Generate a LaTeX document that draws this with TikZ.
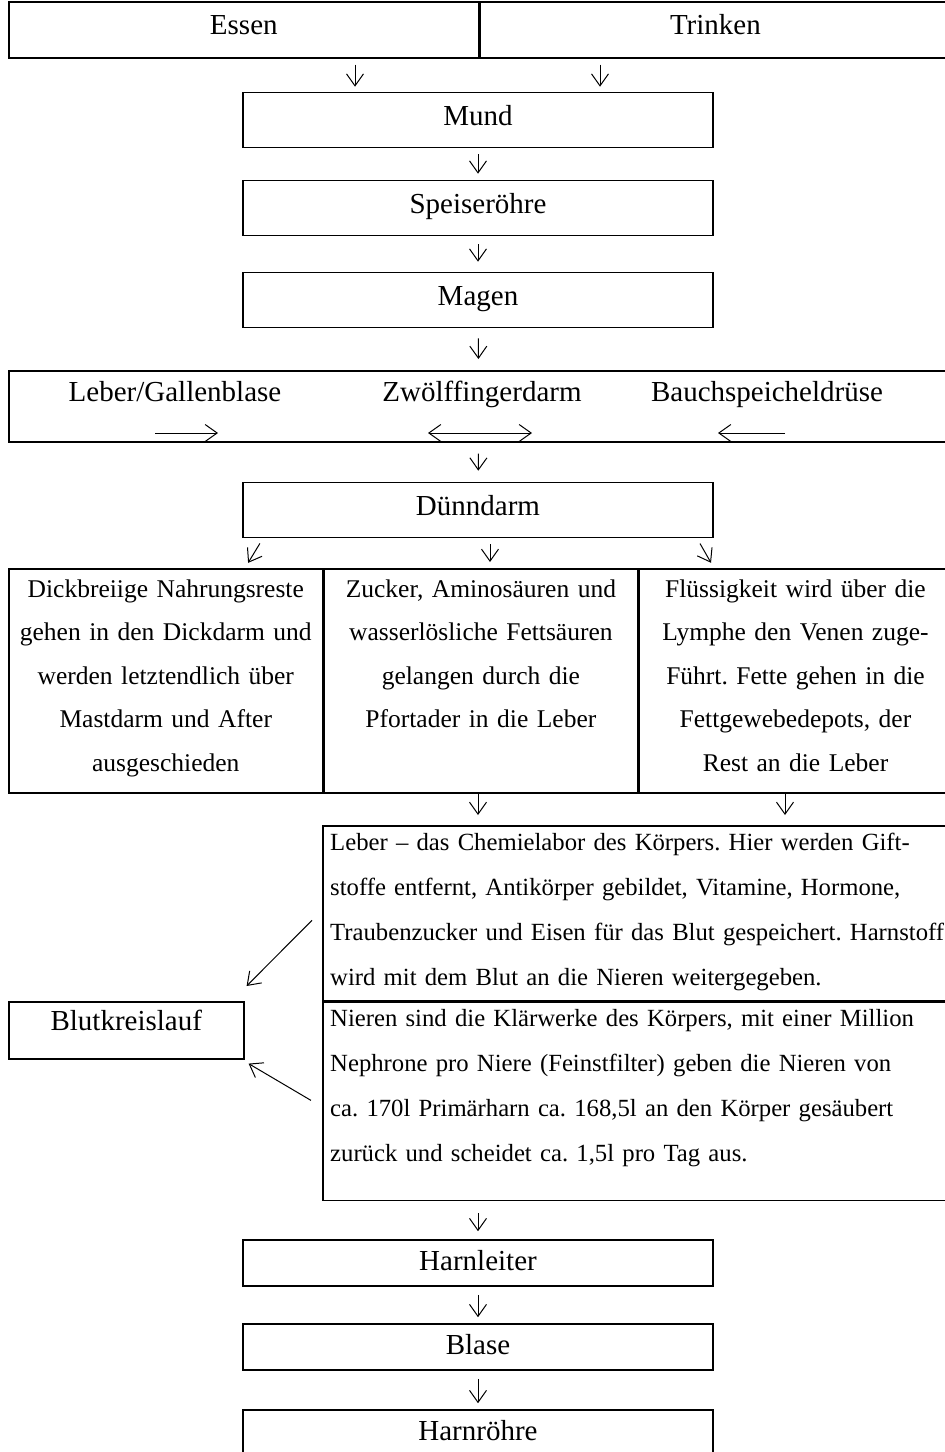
\documentclass[tikz,border=0pt]{standalone}
\usepackage{fontspec}
\setmainfont{Liberation Serif}
\usetikzlibrary{positioning,arrows.meta}
\frenchspacing

\newcommand{\headsize}{\fontsize{29}{34}\selectfont}
\newcommand{\bodysize}{\fontsize{25.5}{43.5}\selectfont}
\newcommand{\notesize}{\fontsize{24.7}{45}\selectfont}

\tikzset{
  box/.style={draw, line width=1.6pt, inner sep=0pt, minimum height=55,
    font=\headsize, text height=22, text depth=12},
  cell/.style={draw, line width=1.6pt, inner sep=0pt},
  coltext/.style={inner sep=0pt, font=\bodysize, align=center, text width=305, anchor=north},
  notetext/.style={inner sep=0pt, font=\notesize, align=left, text width=640, anchor=north west},
  label/.style={inner sep=0pt, font=\headsize, anchor=base},
  arr/.style={-{Straight Barb[length=12pt,width=17pt]}, line width=1pt},
  arrs/.style={{Straight Barb[length=12pt,width=17pt]}-{Straight Barb[length=12pt,width=17pt]}, line width=1pt},
}

\begin{document}
\begin{tikzpicture}[x=1pt,y=-1pt]

  \useasboundingbox (0,0) rectangle (945,1452);

  % Essen / Trinken
  \node[box, minimum width=470, minimum height=56, anchor=north west] (essen) at (8,1) {Essen};
  \node[box, minimum width=470, minimum height=56, right=0pt of essen] (trinken) {Trinken};

  \node[box, minimum width=470] (mund) at (478,120) {Mund};
  \node[box, minimum width=470] (speise) at (478,208) {Speiser\"ohre};
  \node[box, minimum width=470] (magen) at (478,300) {Magen};

  % Verdauungsorgane
  \node[cell, minimum width=940, minimum height=71, anchor=north west] (organs) at (8,370) {};
  \node[label] (galle) at (175,401) {Leber/Gallenblase};
  \node[label] (zwoelf) at (482,401) {Zw\"olffingerdarm};
  \node[label] (pankreas) at (767,401) {Bauchspeicheldr\"use};
  \coordinate (g1) at (155,433);
  \coordinate (g2) at (218,433);
  \coordinate (z1) at (428,433);
  \coordinate (z2) at (532,433);
  \coordinate (p1) at (785,433);
  \coordinate (p2) at (718,433);

  \node[box, minimum width=470] (duenn) at (478,510) {D\"unndarm};

  % drei Wege
  \node[cell, minimum width=314, minimum height=224, anchor=north west] (weg1) at (8,568) {};
  \node[cell, minimum width=313, minimum height=224, right=0pt of weg1] (weg2) {};
  \node[cell, minimum width=313, minimum height=224, right=0pt of weg2] (weg3) {};
  \node[coltext] (rest) at ([yshift=-11.5]weg1.north)
    {Dickbreiige Nahrungsreste\\gehen in den Dickdarm und\\werden letztendlich \"uber\\Mastdarm und After\\ausgeschieden};
  \node[coltext] (zucker) at ([yshift=-11.5]weg2.north)
    {Zucker, Aminos\"auren und\\wasserl\"osliche Fetts\"auren\\gelangen durch die\\Pfortader in die Leber};
  \node[coltext] (fluessig) at ([yshift=-11.5]weg3.north)
    {Fl\"ussigkeit wird \"uber die\\Lymphe den Venen zuge-\\F\"uhrt. Fette gehen in die\\Fettgewebedepots, der\\Rest an die Leber};

  % Leber und Nieren
  \node[cell, minimum width=626, minimum height=175, anchor=north west] (leber) at (322,825) {};
  \node[cell, minimum width=626, minimum height=198, below=0pt of leber] (nieren) {};
  \node[notetext] (lebertext) at ([shift={(8,7.5)}]leber.north west)
    {Leber -- das Chemielabor des K\"orpers. Hier werden Gift-\\
     stoffe entfernt, Antik\"orper gebildet, Vitamine, Hormone,\\
     Traubenzucker und Eisen f\"ur das Blut gespeichert. Harnstoff\\
     wird mit dem Blut an die Nieren weitergegeben.};
  \node[notetext] (nierentext) at ([shift={(8,7.5)}]nieren.north west)
    {Nieren sind die Kl\"arwerke des K\"orpers, mit einer Million\\
     Nephrone pro Niere (Feinstfilter) geben die Nieren von\\
     ca. 170l Prim\"arharn ca. 168,5l an den K\"orper ges\"aubert\\
     zur\"uck und scheidet ca. 1,5l pro Tag aus.};

  \node[box, minimum width=235, minimum height=57, text depth=21, anchor=north west] (blut) at (8,1001) {Blutkreislauf};

  \node[box, minimum width=470, minimum height=46, text depth=8] (harnleiter) at (478,1263) {Harnleiter};
  \node[box, minimum width=470, minimum height=46, text depth=8] (blase) at (478,1347) {Blase};
  \node[box, minimum width=470, minimum height=46, text depth=8] (harnroehre) at (478,1433) {Harnr\"ohre};

  % Pfeile
  \coordinate (ea) at (355,0);
  \coordinate (ta) at (600,0);
  \draw[arr, shorten <=6pt, shorten >=5pt] (essen.south -| ea) -- (mund.north -| ea);
  \draw[arr, shorten <=6pt, shorten >=5pt] (essen.south -| ta) -- (mund.north -| ta);
  \draw[arr, shorten <=6pt, shorten >=6pt] (mund) -- (speise);
  \draw[arr, shorten <=8pt, shorten >=10pt] (speise) -- (magen);
  \draw[arr, shorten <=10pt, shorten >=11pt] (magen) -- (organs);
  \draw[arr, shorten <=11pt, shorten >=11pt] (organs) -- (duenn);
  \draw[arr] (g1) -- (g2);
  \draw[arrs] (z1) -- (z2);
  \draw[arr] (p1) -- (p2);
  \draw[arr, shorten <=6pt, shorten >=6pt] (duenn.south -| 263,0) -- (weg1.north -| 245,0);
  \draw[arr, shorten <=6pt, shorten >=6pt] (duenn.south -| 490,0) -- (weg2.north -| 490,0);
  \draw[arr, shorten <=6pt, shorten >=6pt] (duenn.south -| 697,0) -- (weg3.north -| 714,0);
  \draw[arr, shorten >=10pt] (weg2.south -| 478,0) -- (leber.north -| 478,0);
  \draw[arr, shorten >=10pt] (weg3.south -| 785,0) -- (leber.north -| 785,0);
  \draw[arr] ([shift={(-10,7)}]leber.west) -- ([shift={(2,-15)}]blut.north east);
  \draw[arr] ([shift={(-11,-1)}]nieren.west) -- ([shift={(4,4)}]blut.south east);
  \draw[arr, shorten <=12pt, shorten >=8pt] (nieren.south -| harnleiter) -- (harnleiter);
  \draw[arr, shorten <=8pt, shorten >=6pt] (harnleiter) -- (blase);
  \draw[arr, shorten <=8pt, shorten >=6pt] (blase) -- (harnroehre);

\end{tikzpicture}
\end{document}
